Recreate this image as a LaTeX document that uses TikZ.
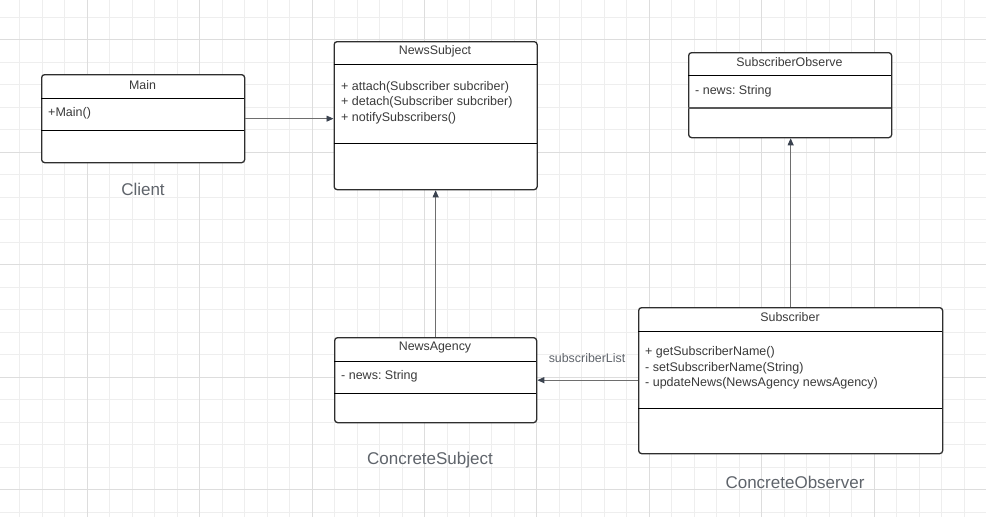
\documentclass[tikz,border=0pt]{standalone}
\usepackage{fontspec}
\setmainfont{Liberation Sans}
\usetikzlibrary{arrows.meta}
\frenchspacing

\definecolor{gridminor}{HTML}{EEEEEE}
\definecolor{gridmajor}{HTML}{DDDDDD}
\definecolor{ink}{HTML}{2E2E2E}
\definecolor{textc}{HTML}{3A3A3A}
\definecolor{caption}{HTML}{5F646B}
\definecolor{wire}{HTML}{6E6E6E}
\definecolor{tip}{HTML}{3B4350}

\tikzset{
  minorline/.style={draw=gridminor, line width=0.9pt},
  majorline/.style={draw=gridmajor, line width=1pt},
  classbox/.style={draw=ink, line width=1.3pt, rounded corners=3pt, fill=white,
    inner sep=0pt, anchor=north west},
  sepline/.style={draw=black, line width=1pt},
  classname/.style={font=\fontsize{12.4}{14}\selectfont, text=textc, inner sep=0pt},
  members/.style={font=\fontsize{12.5}{15.5}\selectfont, text=textc, inner sep=0pt,
    anchor=west, align=left},
  rolelabel/.style={font=\fontsize{17}{20}\selectfont, text=caption, inner sep=0pt},
  assoc/.style={draw=wire, line width=0.9pt,
    -{Triangle[length=7pt,width=6pt,fill=tip,color=tip]}},
  linklabel/.style={font=\fontsize{12.4}{14}\selectfont, text=caption, inner sep=0pt}
}

\begin{document}
\begin{tikzpicture}[x=1pt,y=-1pt]
  \useasboundingbox (0,0) rectangle (986,517);
  \fill[white] (0,0) rectangle (986,517);

  % background grid
  \foreach \i in {-3,...,40}
    \draw[minorline] ({87.3+22.48*\i},0) -- ({87.3+22.48*\i},517);
  \foreach \j in {-1,...,21}
    \draw[minorline] (0,{39.5+22.5*\j}) -- (986,{39.5+22.5*\j});
  \foreach \i in {0,...,7}
    \draw[majorline] ({87.3+112.4*\i},0) -- ({87.3+112.4*\i},517);
  \foreach \j in {0,...,4}
    \draw[majorline] (0,{39.5+112.5*\j}) -- (986,{39.5+112.5*\j});

  % Main
  \node[classbox, minimum width=203pt, minimum height=88pt] (main) at (41,74) {};
  \draw[sepline] (41,98) -- (244,98);
  \draw[sepline] (41,130) -- (244,130);
  \node[classname] (mainname) at (142.5,85.5) {Main};
  \node[members] (mainops) at (48,113) {+Main()};
  \node[rolelabel] (client) at (143,189) {Client};

  % NewsSubject
  \node[classbox, minimum width=203pt, minimum height=148pt] (subject) at (333.5,41) {};
  \draw[sepline] (333.5,64) -- (536.5,64);
  \draw[sepline] (333.5,143) -- (536.5,143);
  \node[classname] (subjectname) at (435,51.5) {NewsSubject};
  \node[members] (subjectops) at (341,102.5)
    {+ attach(Subscriber subcriber)\\+ detach(Subscriber subcriber)\\+ notifySubscribers()};

  % SubscriberObserve
  \node[classbox, minimum width=203pt, minimum height=85pt] (observer) at (688,52) {};
  \draw[sepline] (688,75) -- (891,75);
  \draw[draw=ink!80, line width=1.3pt] (688,108) -- (891,108);
  \node[classname] (observername) at (789.5,62.5) {SubscriberObserve};
  \node[members] (observerattr) at (695,91) {- news: String};

  % NewsAgency
  \node[classbox, minimum width=202pt, minimum height=85pt] (agency) at (334,337) {};
  \draw[sepline] (334,361) -- (536,361);
  \draw[sepline] (334,393) -- (536,393);
  \node[classname] (agencyname) at (435,347.5) {NewsAgency};
  \node[members] (agencyattr) at (341,376) {- news: String};
  \node[rolelabel] (csubject) at (430,460) {ConcreteSubject};

  % Subscriber
  \node[classbox, minimum width=304pt, minimum height=146pt] (subscriber) at (638,307) {};
  \draw[sepline] (638,331) -- (942,331);
  \draw[sepline] (638,408) -- (942,408);
  \node[classname] (subscribername) at (790,317.5) {Subscriber};
  \node[members] (subscriberops) at (645,368)
    {+ getSubscriberName()\\- setSubscriberName(String)\\- updateNews(NewsAgency newsAgency)};
  \node[rolelabel] (cobserver) at (795,482) {ConcreteObserver};

  % relations
  \draw[assoc] (main.east) -- (main.east -| subject.west);
  \draw[assoc] (agency.north) -- (subject.south);
  \draw[assoc] (subscriber.north) -- (subscriber.north |- observer.south);
  \draw[assoc] (subscriber.west |- agency.east) -- (agency.east);
  \node[linklabel] (listlabel) at (587,358) {subscriberList};
\end{tikzpicture}
\end{document}
